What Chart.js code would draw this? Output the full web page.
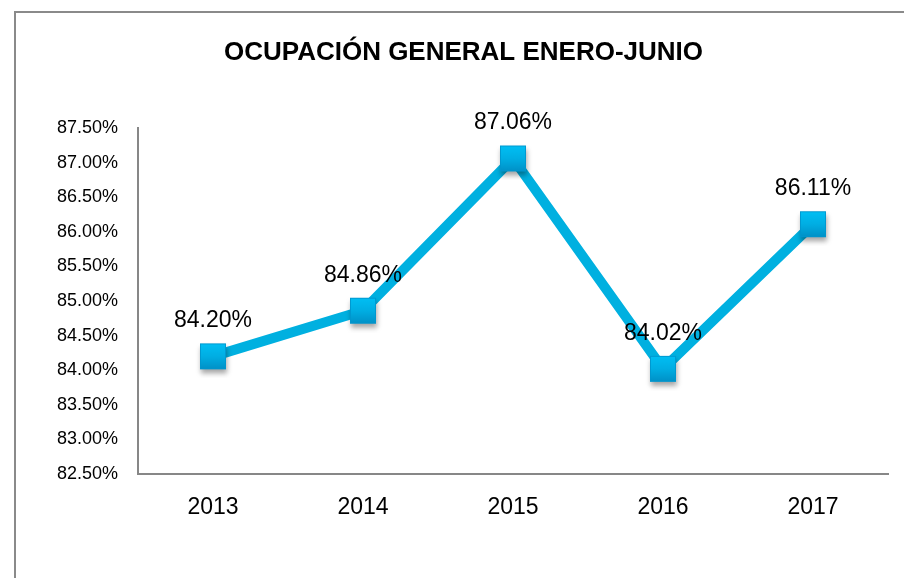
<!DOCTYPE html>
<html>
<head>
<meta charset="utf-8">
<script src="https://cdn.jsdelivr.net/npm/chart.js@4.4.1/dist/chart.umd.min.js"></script>
<style>
  html, body { margin: 0; padding: 0; background: #ffffff; }
  #wrap { position: relative; width: 904px; height: 578px; }
</style>
</head>
<body>
<div id="wrap"><canvas id="c"></canvas></div>
<script>
const titleText = 'OCUPACIÓN GENERAL ENERO-JUNIO';
const years = ['2013', '2014', '2015', '2016', '2017'];
const occupancy = [84.20, 84.86, 87.06, 84.02, 86.11];
const yMin = 82.5;
const yMax = 87.5;
const yStep = 0.5;

const FONT = "'Liberation Sans', Arial, sans-serif";
const LINE_COLOR = '#00B0E0';

// square marker with gradient and soft shadow
function makeMarker() {
  const cv = document.createElement('canvas');
  cv.width = 44; cv.height = 44;
  const g = cv.getContext('2d');
  const s = 26, x0 = 9, y0 = 9;
  g.save();
  g.shadowColor = 'rgba(0,0,0,0.35)';
  g.shadowBlur = 5;
  g.shadowOffsetX = 1;
  g.shadowOffsetY = 4;
  const grad = g.createLinearGradient(0, y0, 0, y0 + s);
  grad.addColorStop(0, '#00BFF4');
  grad.addColorStop(0.5, '#00AEE3');
  grad.addColorStop(1, '#0090C6');
  g.fillStyle = grad;
  g.fillRect(x0, y0, s, s);
  g.restore();
  g.strokeStyle = 'rgba(0,150,205,0.9)';
  g.lineWidth = 1;
  g.strokeRect(x0 + 0.5, y0 + 0.5, s - 1, s - 1);
  return cv;
}
const marker = makeMarker();

const framePlugin = {
  id: 'frame',
  beforeDraw(chart) {
    const ctx = chart.ctx;
    ctx.save();
    ctx.strokeStyle = '#8a8a8a';
    ctx.lineWidth = 2;
    ctx.strokeRect(15, 12, 1000, 1000);
    ctx.restore();
  },
  afterDraw(chart) {
    const ctx = chart.ctx;
    ctx.save();
    ctx.fillStyle = '#000000';
    ctx.font = "bold 26px " + FONT;
    ctx.textAlign = 'center';
    ctx.textBaseline = 'alphabetic';
    ctx.fillText(titleText, 463.5, 60);
    ctx.restore();
  }
};

const labelPlugin = {
  id: 'valueLabels',
  afterDatasetsDraw(chart) {
    const ctx = chart.ctx;
    const meta = chart.getDatasetMeta(0);
    ctx.save();
    ctx.fillStyle = '#000000';
    ctx.font = "23px " + FONT;
    ctx.textAlign = 'center';
    ctx.textBaseline = 'alphabetic';
    meta.data.forEach((pt, i) => {
      ctx.fillText(occupancy[i].toFixed(2) + '%', pt.x, pt.y - 29);
    });
    ctx.restore();
  }
};

new Chart(document.getElementById('c'), {
  type: 'line',
  data: {
    labels: years,
    datasets: [{
      data: occupancy,
      borderColor: LINE_COLOR,
      borderWidth: 10,
      tension: 0,
      fill: false,
      pointStyle: marker,
      pointRadius: 13,
      pointHoverRadius: 13,
      borderJoinStyle: 'miter',
      clip: false
    }]
  },
  options: {
    responsive: true,
    maintainAspectRatio: false,
    animation: false,
    events: [],
    layout: { autoPadding: false, padding: { top: 128, right: 16, bottom: 0, left: 0 } },
    plugins: {
      legend: { display: false },
      title: { display: false },
      tooltip: { enabled: false }
    },
    scales: {
      x: {
        type: 'category',
        offset: true,
        grid: { display: false, drawTicks: false },
        border: { display: true, color: '#878787', width: 2 },
        ticks: {
          color: '#000000',
          font: { family: FONT, size: 23 },
          padding: 20,
          maxRotation: 0
        },
        afterFit(s) { s.height = 104; s.paddingLeft = 0; s.paddingRight = 0; }
      },
      y: {
        min: yMin,
        max: yMax,
        grid: { display: false, drawTicks: false },
        border: { display: true, color: '#878787', width: 2 },
        ticks: {
          stepSize: yStep,
          color: '#000000',
          font: { family: FONT, size: 18 },
          padding: 20,
          callback: (v) => v.toFixed(2) + '%'
        },
        afterFit(s) { s.width = 138; }
      }
    }
  },
  plugins: [framePlugin, labelPlugin]
});
</script>
</body>
</html>
